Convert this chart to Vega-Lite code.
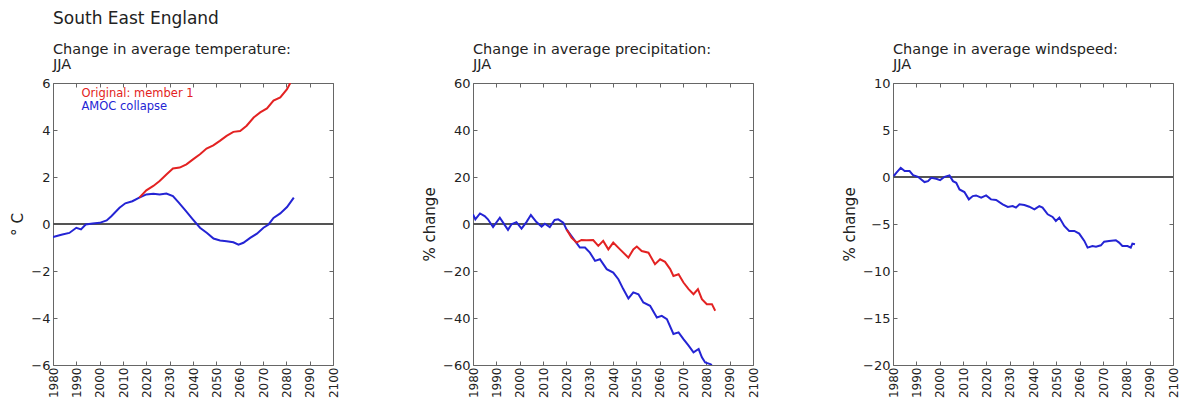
{
  "$schema": "https://vega.github.io/schema/vega-lite/v6.json",
  "padding": {"left": 10, "top": 10, "right": 5, "bottom": 0},
  "background": "white",
  "config": {
    "font": "DejaVu Sans",
    "view": {"stroke": "#666", "strokeWidth": 1},
    "axis": {
      "labelFont": "DejaVu Sans", "labelFontSize": 13, "labelColor": "#222",
      "titleFont": "DejaVu Sans", "titleFontSize": 15, "titleFontWeight": "normal", "titleColor": "#222",
      "tickColor": "#666", "tickSize": -4, "labelPadding": 7, "domain": false, "grid": false
    },
    "axisX": {"labelFontSize": 12, "labelPadding": 6},
    "title": {"anchor": "start", "frame": "group", "fontSize": 14.5, "fontWeight": "normal", "color": "#222", "lineHeight": 15, "offset": 5, "font": "DejaVu Sans"}
  },
  "title": {"text": "South East England", "anchor": "start", "frame": "group", "fontSize": 17, "fontWeight": "normal", "color": "#222", "offset": 13},
  "bounds": "flush",
  "spacing": 140,
  "resolve": {"scale": {"color": "independent"}},
  "datasets": {
    "temp": [
      {"year": 1980, "value": -0.56, "series": "AMOC collapse"},
      {"year": 1982, "value": -0.5, "series": "AMOC collapse"},
      {"year": 1984, "value": -0.45, "series": "AMOC collapse"},
      {"year": 1987, "value": -0.38, "series": "AMOC collapse"},
      {"year": 1990, "value": -0.16, "series": "AMOC collapse"},
      {"year": 1992, "value": -0.23, "series": "AMOC collapse"},
      {"year": 1994, "value": -0.02, "series": "AMOC collapse"},
      {"year": 1997, "value": 0.02, "series": "AMOC collapse"},
      {"year": 2000, "value": 0.05, "series": "AMOC collapse"},
      {"year": 2003, "value": 0.15, "series": "AMOC collapse"},
      {"year": 2005, "value": 0.33, "series": "AMOC collapse"},
      {"year": 2008.5, "value": 0.69, "series": "AMOC collapse"},
      {"year": 2011, "value": 0.88, "series": "AMOC collapse"},
      {"year": 2014, "value": 0.97, "series": "AMOC collapse"},
      {"year": 2017, "value": 1.12, "series": "AMOC collapse"},
      {"year": 2020, "value": 1.26, "series": "AMOC collapse"},
      {"year": 2023, "value": 1.29, "series": "AMOC collapse"},
      {"year": 2025.7, "value": 1.26, "series": "AMOC collapse"},
      {"year": 2028.6, "value": 1.3, "series": "AMOC collapse"},
      {"year": 2031.4, "value": 1.19, "series": "AMOC collapse"},
      {"year": 2034, "value": 0.9, "series": "AMOC collapse"},
      {"year": 2037, "value": 0.55, "series": "AMOC collapse"},
      {"year": 2040, "value": 0.19, "series": "AMOC collapse"},
      {"year": 2043, "value": -0.16, "series": "AMOC collapse"},
      {"year": 2046, "value": -0.38, "series": "AMOC collapse"},
      {"year": 2048.8, "value": -0.62, "series": "AMOC collapse"},
      {"year": 2051.6, "value": -0.7, "series": "AMOC collapse"},
      {"year": 2054.4, "value": -0.73, "series": "AMOC collapse"},
      {"year": 2057.3, "value": -0.78, "series": "AMOC collapse"},
      {"year": 2059.5, "value": -0.88, "series": "AMOC collapse"},
      {"year": 2061.6, "value": -0.8, "series": "AMOC collapse"},
      {"year": 2064.5, "value": -0.59, "series": "AMOC collapse"},
      {"year": 2067.4, "value": -0.41, "series": "AMOC collapse"},
      {"year": 2070.2, "value": -0.16, "series": "AMOC collapse"},
      {"year": 2072.4, "value": -0.02, "series": "AMOC collapse"},
      {"year": 2074.5, "value": 0.26, "series": "AMOC collapse"},
      {"year": 2077.4, "value": 0.45, "series": "AMOC collapse"},
      {"year": 2080.3, "value": 0.72, "series": "AMOC collapse"},
      {"year": 2083.2, "value": 1.12, "series": "AMOC collapse"},
      {"year": 2017, "value": 1.12, "series": "Original: member 1"},
      {"year": 2020, "value": 1.43, "series": "Original: member 1"},
      {"year": 2023, "value": 1.62, "series": "Original: member 1"},
      {"year": 2025.7, "value": 1.83, "series": "Original: member 1"},
      {"year": 2028.6, "value": 2.11, "series": "Original: member 1"},
      {"year": 2031.4, "value": 2.36, "series": "Original: member 1"},
      {"year": 2034.3, "value": 2.4, "series": "Original: member 1"},
      {"year": 2037.2, "value": 2.54, "series": "Original: member 1"},
      {"year": 2040, "value": 2.75, "series": "Original: member 1"},
      {"year": 2043, "value": 2.97, "series": "Original: member 1"},
      {"year": 2045.8, "value": 3.21, "series": "Original: member 1"},
      {"year": 2048.7, "value": 3.35, "series": "Original: member 1"},
      {"year": 2051.5, "value": 3.54, "series": "Original: member 1"},
      {"year": 2054.4, "value": 3.75, "series": "Original: member 1"},
      {"year": 2057.3, "value": 3.92, "series": "Original: member 1"},
      {"year": 2060.2, "value": 3.96, "series": "Original: member 1"},
      {"year": 2063, "value": 4.18, "series": "Original: member 1"},
      {"year": 2066, "value": 4.53, "series": "Original: member 1"},
      {"year": 2068.8, "value": 4.75, "series": "Original: member 1"},
      {"year": 2071.7, "value": 4.92, "series": "Original: member 1"},
      {"year": 2074.5, "value": 5.25, "series": "Original: member 1"},
      {"year": 2077.4, "value": 5.39, "series": "Original: member 1"},
      {"year": 2080.3, "value": 5.74, "series": "Original: member 1"},
      {"year": 2081.7, "value": 6.0, "series": "Original: member 1"}
    ],
    "precip": [
      {"year": 1980, "value": 4.1, "series": "AMOC collapse"},
      {"year": 1981, "value": 2.0, "series": "AMOC collapse"},
      {"year": 1983, "value": 4.5, "series": "AMOC collapse"},
      {"year": 1985, "value": 3.4, "series": "AMOC collapse"},
      {"year": 1986.4, "value": 2.0, "series": "AMOC collapse"},
      {"year": 1988.6, "value": -1.3, "series": "AMOC collapse"},
      {"year": 1991.5, "value": 2.7, "series": "AMOC collapse"},
      {"year": 1992.9, "value": 0.6, "series": "AMOC collapse"},
      {"year": 1995, "value": -2.5, "series": "AMOC collapse"},
      {"year": 1996.5, "value": -0.1, "series": "AMOC collapse"},
      {"year": 1998.6, "value": 0.8, "series": "AMOC collapse"},
      {"year": 2000.8, "value": -2.0, "series": "AMOC collapse"},
      {"year": 2002.9, "value": 0.8, "series": "AMOC collapse"},
      {"year": 2004.8, "value": 3.8, "series": "AMOC collapse"},
      {"year": 2007.2, "value": 0.8, "series": "AMOC collapse"},
      {"year": 2009.4, "value": -1.1, "series": "AMOC collapse"},
      {"year": 2010.8, "value": 0.1, "series": "AMOC collapse"},
      {"year": 2012.9, "value": -1.3, "series": "AMOC collapse"},
      {"year": 2015, "value": 1.7, "series": "AMOC collapse"},
      {"year": 2016.5, "value": 2.0, "series": "AMOC collapse"},
      {"year": 2018.7, "value": 0.6, "series": "AMOC collapse"},
      {"year": 2020.1, "value": -2.3, "series": "AMOC collapse"},
      {"year": 2022.2, "value": -5.1, "series": "AMOC collapse"},
      {"year": 2023.7, "value": -7.2, "series": "AMOC collapse"},
      {"year": 2025.8, "value": -10.0, "series": "AMOC collapse"},
      {"year": 2028, "value": -10.0, "series": "AMOC collapse"},
      {"year": 2030.1, "value": -12.2, "series": "AMOC collapse"},
      {"year": 2032.3, "value": -15.7, "series": "AMOC collapse"},
      {"year": 2034.4, "value": -15.0, "series": "AMOC collapse"},
      {"year": 2037.3, "value": -19.2, "series": "AMOC collapse"},
      {"year": 2040.1, "value": -20.7, "series": "AMOC collapse"},
      {"year": 2042.3, "value": -23.5, "series": "AMOC collapse"},
      {"year": 2044.4, "value": -27.7, "series": "AMOC collapse"},
      {"year": 2046.6, "value": -31.7, "series": "AMOC collapse"},
      {"year": 2048.7, "value": -29.1, "series": "AMOC collapse"},
      {"year": 2050.9, "value": -29.9, "series": "AMOC collapse"},
      {"year": 2053, "value": -33.4, "series": "AMOC collapse"},
      {"year": 2055.9, "value": -34.8, "series": "AMOC collapse"},
      {"year": 2058.8, "value": -39.8, "series": "AMOC collapse"},
      {"year": 2060.9, "value": -39.1, "series": "AMOC collapse"},
      {"year": 2063.1, "value": -40.5, "series": "AMOC collapse"},
      {"year": 2065.9, "value": -46.8, "series": "AMOC collapse"},
      {"year": 2068.1, "value": -46.1, "series": "AMOC collapse"},
      {"year": 2070.2, "value": -49.0, "series": "AMOC collapse"},
      {"year": 2072.4, "value": -51.8, "series": "AMOC collapse"},
      {"year": 2074.5, "value": -54.6, "series": "AMOC collapse"},
      {"year": 2076.7, "value": -53.2, "series": "AMOC collapse"},
      {"year": 2078.1, "value": -56.7, "series": "AMOC collapse"},
      {"year": 2079.5, "value": -58.9, "series": "AMOC collapse"},
      {"year": 2081.7, "value": -59.6, "series": "AMOC collapse"},
      {"year": 2082.4, "value": -60.0, "series": "AMOC collapse"},
      {"year": 2020.1, "value": -2.3, "series": "Original: member 1"},
      {"year": 2022.2, "value": -5.8, "series": "Original: member 1"},
      {"year": 2024.4, "value": -7.9, "series": "Original: member 1"},
      {"year": 2026.5, "value": -6.8, "series": "Original: member 1"},
      {"year": 2028.7, "value": -6.9, "series": "Original: member 1"},
      {"year": 2031.5, "value": -6.8, "series": "Original: member 1"},
      {"year": 2033.7, "value": -9.3, "series": "Original: member 1"},
      {"year": 2035.8, "value": -7.2, "series": "Original: member 1"},
      {"year": 2038, "value": -10.8, "series": "Original: member 1"},
      {"year": 2040.1, "value": -7.9, "series": "Original: member 1"},
      {"year": 2043, "value": -10.8, "series": "Original: member 1"},
      {"year": 2046.6, "value": -14.3, "series": "Original: member 1"},
      {"year": 2048.7, "value": -10.8, "series": "Original: member 1"},
      {"year": 2050.2, "value": -9.6, "series": "Original: member 1"},
      {"year": 2052.3, "value": -11.5, "series": "Original: member 1"},
      {"year": 2055.2, "value": -12.2, "series": "Original: member 1"},
      {"year": 2058, "value": -17.1, "series": "Original: member 1"},
      {"year": 2060.2, "value": -15.0, "series": "Original: member 1"},
      {"year": 2062.3, "value": -16.1, "series": "Original: member 1"},
      {"year": 2064.5, "value": -19.2, "series": "Original: member 1"},
      {"year": 2065.9, "value": -22.1, "series": "Original: member 1"},
      {"year": 2068.1, "value": -21.4, "series": "Original: member 1"},
      {"year": 2070.2, "value": -24.9, "series": "Original: member 1"},
      {"year": 2072.4, "value": -27.7, "series": "Original: member 1"},
      {"year": 2074.5, "value": -29.9, "series": "Original: member 1"},
      {"year": 2076.4, "value": -27.7, "series": "Original: member 1"},
      {"year": 2078.1, "value": -32.0, "series": "Original: member 1"},
      {"year": 2080.2, "value": -34.1, "series": "Original: member 1"},
      {"year": 2082.4, "value": -34.1, "series": "Original: member 1"},
      {"year": 2083.8, "value": -36.9, "series": "Original: member 1"}
    ],
    "wind": [
      {"year": 1980.3, "value": 0.1, "series": "AMOC collapse"},
      {"year": 1981.4, "value": 0.45, "series": "AMOC collapse"},
      {"year": 1983.3, "value": 0.98, "series": "AMOC collapse"},
      {"year": 1985, "value": 0.63, "series": "AMOC collapse"},
      {"year": 1987.1, "value": 0.63, "series": "AMOC collapse"},
      {"year": 1988.6, "value": 0.2, "series": "AMOC collapse"},
      {"year": 1990.7, "value": 0.02, "series": "AMOC collapse"},
      {"year": 1993.5, "value": -0.54, "series": "AMOC collapse"},
      {"year": 1995, "value": -0.44, "series": "AMOC collapse"},
      {"year": 1996.4, "value": -0.08, "series": "AMOC collapse"},
      {"year": 1998.5, "value": -0.19, "series": "AMOC collapse"},
      {"year": 2000.2, "value": -0.33, "series": "AMOC collapse"},
      {"year": 2002.1, "value": 0.02, "series": "AMOC collapse"},
      {"year": 2004.2, "value": 0.17, "series": "AMOC collapse"},
      {"year": 2005.7, "value": -0.44, "series": "AMOC collapse"},
      {"year": 2007.1, "value": -0.61, "series": "AMOC collapse"},
      {"year": 2008.5, "value": -1.32, "series": "AMOC collapse"},
      {"year": 2010.6, "value": -1.6, "series": "AMOC collapse"},
      {"year": 2012.5, "value": -2.38, "series": "AMOC collapse"},
      {"year": 2014.2, "value": -2.03, "series": "AMOC collapse"},
      {"year": 2015.6, "value": -1.96, "series": "AMOC collapse"},
      {"year": 2017.8, "value": -2.2, "series": "AMOC collapse"},
      {"year": 2019.9, "value": -1.96, "series": "AMOC collapse"},
      {"year": 2022, "value": -2.38, "series": "AMOC collapse"},
      {"year": 2024.2, "value": -2.45, "series": "AMOC collapse"},
      {"year": 2027, "value": -2.91, "series": "AMOC collapse"},
      {"year": 2029.2, "value": -3.19, "series": "AMOC collapse"},
      {"year": 2031.3, "value": -3.09, "series": "AMOC collapse"},
      {"year": 2032.7, "value": -3.26, "series": "AMOC collapse"},
      {"year": 2034.2, "value": -2.91, "series": "AMOC collapse"},
      {"year": 2036.3, "value": -2.98, "series": "AMOC collapse"},
      {"year": 2038.4, "value": -3.16, "series": "AMOC collapse"},
      {"year": 2040.6, "value": -3.44, "series": "AMOC collapse"},
      {"year": 2042.7, "value": -3.09, "series": "AMOC collapse"},
      {"year": 2044.1, "value": -3.26, "series": "AMOC collapse"},
      {"year": 2046.3, "value": -3.97, "series": "AMOC collapse"},
      {"year": 2048.4, "value": -4.25, "series": "AMOC collapse"},
      {"year": 2049.8, "value": -4.68, "series": "AMOC collapse"},
      {"year": 2051.3, "value": -4.32, "series": "AMOC collapse"},
      {"year": 2053.4, "value": -5.21, "series": "AMOC collapse"},
      {"year": 2055.5, "value": -5.74, "series": "AMOC collapse"},
      {"year": 2057.7, "value": -5.74, "series": "AMOC collapse"},
      {"year": 2059.8, "value": -6.02, "series": "AMOC collapse"},
      {"year": 2062, "value": -6.8, "series": "AMOC collapse"},
      {"year": 2063.4, "value": -7.51, "series": "AMOC collapse"},
      {"year": 2065.5, "value": -7.34, "series": "AMOC collapse"},
      {"year": 2067, "value": -7.41, "series": "AMOC collapse"},
      {"year": 2069.1, "value": -7.27, "series": "AMOC collapse"},
      {"year": 2070.5, "value": -6.88, "series": "AMOC collapse"},
      {"year": 2072.6, "value": -6.8, "series": "AMOC collapse"},
      {"year": 2075.5, "value": -6.73, "series": "AMOC collapse"},
      {"year": 2076.9, "value": -6.98, "series": "AMOC collapse"},
      {"year": 2078.3, "value": -7.34, "series": "AMOC collapse"},
      {"year": 2080.5, "value": -7.34, "series": "AMOC collapse"},
      {"year": 2081.9, "value": -7.51, "series": "AMOC collapse"},
      {"year": 2082.6, "value": -7.09, "series": "AMOC collapse"},
      {"year": 2083.7, "value": -7.16, "series": "AMOC collapse"}
    ]
  },
  "hconcat": [
    {
      "width": 280, "height": 282,
      "title": {"text": ["Change in average temperature:", "JJA"]},
      "data": {"name": "temp"},
      "resolve": {"axis": {"x": "independent", "y": "independent"}},
      "layer": [
        {
          "mark": {"type": "rule", "color": "#555", "strokeWidth": 1},
          "encoding": {
            "x": {"datum": 1980, "type": "quantitative", "scale": {"domain": [1980, 2100], "nice": false, "zero": false},
                  "axis": {"orient": "top", "values": [1980,1990,2000,2010,2020,2030,2040,2050,2060,2070,2080,2090,2100], "labels": false, "title": null}},
            "x2": {"datum": 2100},
            "y": {"datum": 0, "type": "quantitative", "scale": {"domain": [-6, 6], "nice": false, "zero": false},
                  "axis": {"orient": "right", "values": [-6,-4,-2,0,2,4,6], "labels": false, "title": null}}
          }
        },
        {
          "mark": {"type": "line", "strokeWidth": 2, "clip": true},
          "encoding": {
            "x": {"field": "year", "type": "quantitative", "scale": {"domain": [1980, 2100], "nice": false, "zero": false},
                  "axis": {"orient": "bottom", "values": [1980,1990,2000,2010,2020,2030,2040,2050,2060,2070,2080,2090,2100], "format": "d", "labelAngle": -90, "title": null}},
            "y": {"field": "value", "type": "quantitative", "scale": {"domain": [-6, 6], "nice": false, "zero": false},
                  "axis": {"orient": "left", "values": [-6,-4,-2,0,2,4,6], "title": "° C", "titlePadding": 5}},
            "color": {"field": "series", "type": "nominal",
                      "scale": {"domain": ["Original: member 1", "AMOC collapse"], "range": ["#e32222", "#2424d4"]},
                      "legend": {"orient": "top-left", "title": null, "offset": 5, "padding": 0, "symbolSize": 0, "symbolStrokeWidth": 0, "symbolOpacity": 0,
                                 "labelOffset": 12, "labelFontSize": 11.5, "labelFont": "DejaVu Sans", "labelLimit": 300, "rowPadding": 0,
                                 "encode": {"labels": {"update": {"fill": {"signal": "datum.label === 'AMOC collapse' ? '#2424d4' : '#e32222'"}}}}}}
          }
        }
      ]
    },
    {
      "width": 280, "height": 282,
      "title": {"text": ["Change in average precipitation:", "JJA"]},
      "data": {"name": "precip"},
      "resolve": {"axis": {"x": "independent", "y": "independent"}},
      "layer": [
        {
          "mark": {"type": "rule", "color": "#555", "strokeWidth": 1},
          "encoding": {
            "x": {"datum": 1980, "type": "quantitative", "scale": {"domain": [1980, 2100], "nice": false, "zero": false},
                  "axis": {"orient": "top", "values": [1980,1990,2000,2010,2020,2030,2040,2050,2060,2070,2080,2090,2100], "labels": false, "title": null}},
            "x2": {"datum": 2100},
            "y": {"datum": 0, "type": "quantitative", "scale": {"domain": [-60, 60], "nice": false, "zero": false},
                  "axis": {"orient": "right", "values": [-60,-40,-20,0,20,40,60], "labels": false, "title": null}}
          }
        },
        {
          "mark": {"type": "line", "strokeWidth": 2, "clip": true},
          "encoding": {
            "x": {"field": "year", "type": "quantitative", "scale": {"domain": [1980, 2100], "nice": false, "zero": false},
                  "axis": {"orient": "bottom", "values": [1980,1990,2000,2010,2020,2030,2040,2050,2060,2070,2080,2090,2100], "format": "d", "labelAngle": -90, "title": null}},
            "y": {"field": "value", "type": "quantitative", "scale": {"domain": [-60, 60], "nice": false, "zero": false},
                  "axis": {"orient": "left", "values": [-60,-40,-20,0,20,40,60], "title": "% change", "titlePadding": 5}},
            "color": {"field": "series", "type": "nominal",
                      "scale": {"domain": ["Original: member 1", "AMOC collapse"], "range": ["#e32222", "#2424d4"]},
                      "legend": null}
          }
        }
      ]
    },
    {
      "width": 280, "height": 282,
      "title": {"text": ["Change in average windspeed:", "JJA"]},
      "data": {"name": "wind"},
      "resolve": {"axis": {"x": "independent", "y": "independent"}},
      "layer": [
        {
          "mark": {"type": "rule", "color": "#555", "strokeWidth": 1},
          "encoding": {
            "x": {"datum": 1980, "type": "quantitative", "scale": {"domain": [1980, 2100], "nice": false, "zero": false},
                  "axis": {"orient": "top", "values": [1980,1990,2000,2010,2020,2030,2040,2050,2060,2070,2080,2090,2100], "labels": false, "title": null}},
            "x2": {"datum": 2100},
            "y": {"datum": 0, "type": "quantitative", "scale": {"domain": [-20, 10], "nice": false, "zero": false},
                  "axis": {"orient": "right", "values": [-20,-15,-10,-5,0,5,10], "labels": false, "title": null}}
          }
        },
        {
          "mark": {"type": "line", "strokeWidth": 2, "clip": true},
          "encoding": {
            "x": {"field": "year", "type": "quantitative", "scale": {"domain": [1980, 2100], "nice": false, "zero": false},
                  "axis": {"orient": "bottom", "values": [1980,1990,2000,2010,2020,2030,2040,2050,2060,2070,2080,2090,2100], "format": "d", "labelAngle": -90, "title": null}},
            "y": {"field": "value", "type": "quantitative", "scale": {"domain": [-20, 10], "nice": false, "zero": false},
                  "axis": {"orient": "left", "values": [-20,-15,-10,-5,0,5,10], "title": "% change", "titlePadding": 5}},
            "color": {"field": "series", "type": "nominal",
                      "scale": {"domain": ["Original: member 1", "AMOC collapse"], "range": ["#e32222", "#2424d4"]},
                      "legend": null}
          }
        }
      ]
    }
  ]
}
